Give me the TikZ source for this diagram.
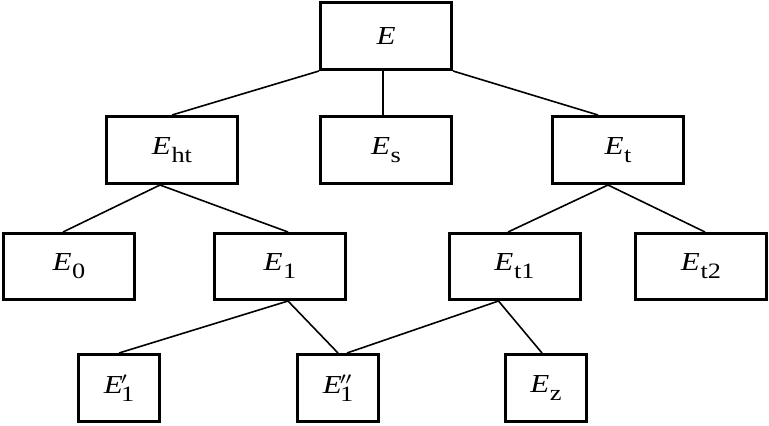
\documentclass[tikz,border=0pt]{standalone}
\usepackage{graphicx}
\usepackage{fontspec}
\setmainfont{Liberation Serif}
\newcommand{\Ebig}{\fontsize{26}{28}\selectfont\textit{E}}
\newcommand{\Esub}[1]{\scalebox{1.2}[1]{\Ebig\kern0.5bp\raisebox{-8bp}{\fontsize{22}{24}\selectfont #1}}}
\newcommand{\Eone}{\scalebox{1.2}[1]{\Ebig}}
\newcommand{\Eprime}[1]{\scalebox{1.2}[1]{\Ebig\kern-1.5bp\rlap{\raisebox{9.5bp}{\fontsize{16}{18}\selectfont$#1$}}\raisebox{-8bp}{\fontsize{22}{24}\selectfont 1}}}
\begin{document}
\begin{tikzpicture}[x=1bp,y=-1bp,
  box/.style={draw,line width=3bp,rectangle,inner sep=0pt,minimum height=67bp},
  wide/.style={box,minimum width=131bp},
  narrow/.style={box,minimum width=81bp},
  link/.style={line width=1.6bp}]
\useasboundingbox (0,0) rectangle (769,425);
\node[wide] (E) at (386,36) {\Eone};
\node[wide] (Eht) at (172,150) {\Esub{ht}};
\node[wide] (Es) at (386,150) {\Esub{s}};
\node[wide] (Et) at (618,150) {\Esub{t}};
\node[wide,minimum height=66bp] (E0) at (69,266.5) {\Esub{0}};
\node[wide,minimum height=66bp] (E1) at (280,266.5) {\Esub{1}};
\node[wide,minimum height=66bp] (Et1) at (514.5,266.5) {\Esub{t1}};
\node[wide,minimum height=66bp] (Et2) at (701,266.5) {\Esub{t2}};
\node[narrow] (E1p) at (119,388) {\Eprime{\prime}};
\node[narrow] (E1pp) at (338,388) {\Eprime{\prime\prime}};
\node[narrow] (Ez) at (546,388) {\Esub{z}};
% connectors
\draw[link] (E.south west) -- (Eht.north);
\draw[link] ([xshift=-3bp]E.south) -- ([xshift=-3bp]Es.north);
\draw[link] (E.south east) -- ([xshift=-20bp]Et.north);
\coordinate (htb) at ([xshift=-12bp]Eht.south);
\draw[link] ([xshift=-6bp]E0.north) -- (htb);
\draw[link] (htb) -- ([xshift=8bp]E1.north);
\coordinate (tb) at ([xshift=-10bp]Et.south);
\draw[link] (tb) -- ([xshift=-6.5bp]Et1.north);
\draw[link] (tb) -- ([xshift=4bp]Et2.north);
\coordinate (e1b) at ([xshift=8bp]E1.south);
\draw[link] (e1b) -- (E1p.north);
\draw[link] (e1b) -- (E1pp.north);
\coordinate (t1b) at ([xshift=-16bp]Et1.south);
\draw[link] (t1b) -- ([xshift=9bp]E1pp.north);
\draw[link] (t1b) -- ([xshift=-4bp]Ez.north);
\end{tikzpicture}
\end{document}
